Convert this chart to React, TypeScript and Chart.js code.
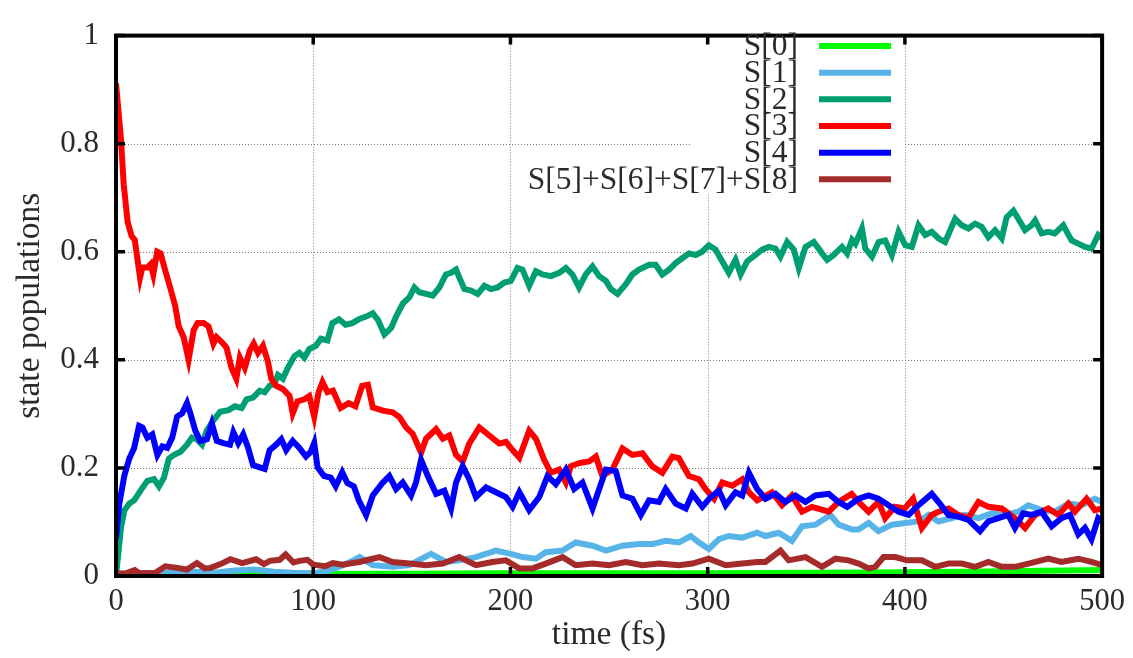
import React, { useEffect, useRef } from "react";
import { Chart, registerables } from "chart.js";

Chart.register(...registerables);

// [time (fs), population] pairs for each electronic state
const S0: [number, number][] = [
  [0, 0.004], [50, 0.004], [100, 0.004], [150, 0.004], [200, 0.005], [250, 0.005],
  [300, 0.005], [350, 0.006], [400, 0.007], [430, 0.008], [450, 0.009], [480, 0.01], [500, 0.011],
];

const S1: [number, number][] = [
  [0, 0.003], [10, 0.004], [20, 0.005], [30, 0.006], [40, 0.008], [50, 0.006], [60, 0.01],
  [70, 0.012], [80, 0.008], [90, 0.006], [100, 0.005], [108, 0.01], [115, 0.02], [120, 0.028],
  [123.5, 0.035], [130.2, 0.02], [140.3, 0.017], [148.8, 0.02], [159.7, 0.041], [167.3, 0.026],
  [174, 0.029], [182.5, 0.035], [192.6, 0.047], [200.2, 0.041], [206.1, 0.035], [212.9, 0.032],
  [217.9, 0.044], [226.4, 0.047], [233.1, 0.062], [241.6, 0.056], [248.4, 0.047], [256.8, 0.056],
  [265.2, 0.059], [272, 0.059], [278.7, 0.065], [285.4, 0.062], [291.4, 0.074], [295.6, 0.062],
  [300.6, 0.05], [305.7, 0.068], [310.8, 0.074], [317.5, 0.071], [325.1, 0.08], [329.3, 0.074],
  [336, 0.08], [342.7, 0.065], [347.8, 0.092], [354.6, 0.095], [359.7, 0.107], [362.2, 0.113],
  [366.4, 0.095], [373.2, 0.086], [376.5, 0.086], [381.6, 0.098], [386.6, 0.083], [393.4, 0.095],
  [400.2, 0.098], [406.9, 0.101], [412, 0.113], [417, 0.101], [423.8, 0.107], [430.5, 0.113],
  [437.3, 0.107], [444, 0.116], [450.8, 0.113], [457.5, 0.119], [462.6, 0.131], [469.3, 0.122],
  [476, 0.119], [482.9, 0.134], [489.6, 0.131], [496.3, 0.143], [500, 0.137],
];

const S2: [number, number][] = [
  [0, 0], [2.5, 0.089], [4.2, 0.121], [6.7, 0.134], [9.2, 0.14], [12.6, 0.159], [15.9, 0.176],
  [19.3, 0.179], [21.8, 0.166], [24.3, 0.182], [26.8, 0.217], [29.3, 0.224], [32.7, 0.23],
  [36, 0.243], [38.5, 0.256], [41, 0.253], [43.6, 0.243], [46, 0.269], [49.4, 0.288],
  [52.8, 0.304], [57, 0.307], [60.3, 0.314], [63.7, 0.311], [66.2, 0.327], [69.5, 0.33],
  [72.9, 0.343], [75.4, 0.34], [77.9, 0.352], [80.4, 0.356], [82.1, 0.372], [84.6, 0.365],
  [87.1, 0.385], [90.5, 0.407], [93, 0.413], [95.5, 0.404], [98, 0.42], [101.3, 0.426],
  [103.9, 0.439], [107.2, 0.436], [109.7, 0.468], [113.1, 0.475], [116.4, 0.465], [119.8, 0.468],
  [123.1, 0.475], [126.8, 0.48], [130.2, 0.486], [132.8, 0.474], [136.1, 0.447], [139.5, 0.459],
  [142, 0.48], [145.4, 0.504], [148.8, 0.516], [151.3, 0.534], [153.8, 0.525], [157.2, 0.522],
  [160.6, 0.519], [164, 0.534], [167.3, 0.558], [169.9, 0.561], [172.4, 0.567], [174.1, 0.552],
  [176.6, 0.531], [180, 0.528], [183.4, 0.522], [186.8, 0.537], [190.1, 0.531], [193.5, 0.534],
  [196.9, 0.543], [200.2, 0.546], [203.6, 0.57], [206.1, 0.567], [209.5, 0.537], [212.9, 0.564],
  [216.3, 0.558], [220.5, 0.555], [224.7, 0.561], [228.1, 0.57], [231.4, 0.558], [234.8, 0.534],
  [238.2, 0.558], [241.6, 0.573], [245, 0.555], [248.4, 0.546], [250.9, 0.531], [254.3, 0.522],
  [258.5, 0.54], [261.8, 0.558], [265.2, 0.567], [270.3, 0.576], [273.6, 0.576], [277, 0.558],
  [280.4, 0.567], [283.8, 0.579], [287.1, 0.588], [290.5, 0.597], [293.9, 0.594], [297.2, 0.6],
  [300.6, 0.612], [304, 0.604], [307.4, 0.582], [310.7, 0.561], [314.1, 0.585], [316.7, 0.558],
  [320, 0.582], [324.2, 0.594], [327.6, 0.604], [331, 0.609], [334.4, 0.606], [336.9, 0.591],
  [340.3, 0.618], [343.7, 0.604], [346.2, 0.57], [349.6, 0.609], [353.8, 0.618], [358, 0.597],
  [360.6, 0.585], [363.9, 0.594], [368.1, 0.609], [370.7, 0.597], [373.2, 0.622], [374.9, 0.615],
  [378.2, 0.643], [379.9, 0.606], [383.3, 0.591], [386.7, 0.618], [390, 0.621], [393.4, 0.594],
  [396.8, 0.637], [400.2, 0.612], [403.5, 0.609], [406.9, 0.649], [410.3, 0.631], [413.6, 0.637],
  [417, 0.625], [420.4, 0.618], [425.5, 0.661], [428.8, 0.649], [432.2, 0.643], [435.6, 0.652],
  [438.9, 0.646], [442.3, 0.627], [445.7, 0.64], [449.1, 0.625], [451.6, 0.664], [455, 0.676],
  [457.5, 0.661], [460.9, 0.64], [464.2, 0.649], [466, 0.658], [469.3, 0.634], [472.7, 0.637],
  [476, 0.634], [480.3, 0.649], [484.5, 0.621], [487.9, 0.615], [491.3, 0.609], [494.6, 0.606],
  [498, 0.631], [500, 0.625],
];

const S3: [number, number][] = [
  [0, 0.912], [2.5, 0.809], [3.9, 0.725], [5.9, 0.655], [7.9, 0.629], [9.5, 0.622], [12.2, 0.552],
  [13.4, 0.571], [16, 0.571], [17.6, 0.577], [18.9, 0.558], [20.9, 0.6], [22.6, 0.597],
  [25, 0.565], [27.6, 0.532], [30, 0.5], [31.8, 0.462], [34.3, 0.442], [36.8, 0.4], [39.4, 0.455],
  [41.4, 0.468], [44.4, 0.468], [46.9, 0.462], [49.4, 0.43], [51, 0.442], [53.6, 0.433],
  [56, 0.423], [58.6, 0.385], [61, 0.365], [62.8, 0.404], [65.3, 0.385], [67.8, 0.417],
  [69.8, 0.43], [72, 0.413], [74.5, 0.426], [77, 0.397], [78.7, 0.365], [81.2, 0.352],
  [84.6, 0.346], [88, 0.333], [89.6, 0.301], [92, 0.323], [95.5, 0.327], [98, 0.333],
  [100.5, 0.295], [102.7, 0.34], [104.7, 0.359], [107.2, 0.34], [110, 0.343], [113.9, 0.311],
  [118, 0.32], [121.4, 0.314], [124.8, 0.352], [127.7, 0.354], [130.2, 0.312], [135.3, 0.306],
  [140.3, 0.303], [143.7, 0.294], [147.1, 0.275], [150.5, 0.263], [154.7, 0.228], [157.2, 0.254],
  [162.3, 0.272], [165.7, 0.254], [169, 0.26], [172.4, 0.224], [175.8, 0.212], [179.1, 0.245],
  [184.2, 0.275], [189.3, 0.26], [194.3, 0.245], [197.7, 0.248], [201.1, 0.233], [204.5, 0.219],
  [209.5, 0.269], [212.9, 0.254], [217.1, 0.215], [220.5, 0.191], [224.7, 0.197], [228.1, 0.173],
  [230.6, 0.203], [234.8, 0.209], [239.9, 0.212], [243.3, 0.221], [246.6, 0.185], [251.7, 0.197],
  [256.8, 0.236], [261.8, 0.224], [266.9, 0.227], [271.9, 0.203], [277, 0.191], [282.1, 0.221],
  [285.4, 0.218], [290.5, 0.185], [295.6, 0.179], [298.9, 0.161], [303.2, 0.143], [307.4, 0.173],
  [312.5, 0.167], [317.5, 0.179], [320.9, 0.155], [325.1, 0.14], [332.6, 0.155], [337.7, 0.131],
  [342.7, 0.149], [347.8, 0.119], [352.9, 0.128], [361.4, 0.119], [366.4, 0.137], [373, 0.152],
  [376.5, 0.137], [381.6, 0.119], [386.6, 0.137], [390, 0.107], [394.8, 0.128], [399.9, 0.125],
  [404.1, 0.143], [408.6, 0.089], [413.6, 0.113], [417, 0.119], [422.1, 0.125], [427.1, 0.113],
  [432.2, 0.107], [437.3, 0.137], [442.3, 0.128], [449.1, 0.125], [455.8, 0.107], [460.9, 0.089],
  [466, 0.113], [472.7, 0.125], [477.8, 0.113], [482.9, 0.134], [486.2, 0.119], [492.1, 0.143],
  [496.3, 0.122], [500, 0.125],
];

const S4: [number, number][] = [
  [0, 0.069], [1.7, 0.134], [4.2, 0.185], [6.7, 0.217], [9.2, 0.237], [11.7, 0.278], [13.4, 0.275],
  [15.9, 0.256], [18.4, 0.262], [21, 0.224], [23.5, 0.24], [26, 0.237], [28.5, 0.256], [31, 0.295],
  [33.5, 0.301], [36, 0.32], [37.7, 0.301], [40.2, 0.269], [42.7, 0.25], [46.1, 0.253],
  [48.6, 0.282], [51.1, 0.25], [54.4, 0.246], [57.8, 0.243], [59.5, 0.266], [62, 0.246],
  [64.5, 0.262], [67, 0.237], [69.5, 0.205], [72.9, 0.201], [75.4, 0.198], [77.9, 0.233],
  [81.2, 0.243], [83.8, 0.253], [86.3, 0.233], [89.6, 0.25], [93, 0.237], [96.3, 0.221],
  [98.8, 0.23], [100.5, 0.246], [102.2, 0.201], [105.5, 0.185], [108.9, 0.182], [111.4, 0.166],
  [114.7, 0.192], [117.3, 0.172], [120.6, 0.166], [123.1, 0.14], [126.8, 0.113], [130.2, 0.149],
  [135.3, 0.173], [138.6, 0.185], [142, 0.161], [145.4, 0.173], [149.6, 0.149], [152.1, 0.173],
  [154.7, 0.215], [158.1, 0.185], [162.3, 0.152], [166.5, 0.158], [169.9, 0.125], [172.4, 0.173],
  [175.8, 0.203], [179.1, 0.179], [182.5, 0.146], [187.6, 0.164], [192.6, 0.155], [197.7, 0.146],
  [201.1, 0.128], [204.5, 0.155], [209.5, 0.122], [214.6, 0.146], [218.8, 0.185], [223, 0.17],
  [228.1, 0.197], [232.3, 0.161], [236.5, 0.173], [241.6, 0.125], [245, 0.161], [248.4, 0.197],
  [253.4, 0.194], [256.8, 0.149], [261.8, 0.143], [266.1, 0.113], [270.3, 0.14], [275.3, 0.137],
  [278.7, 0.161], [283.8, 0.134], [288.9, 0.125], [292.2, 0.152], [297.3, 0.128], [301.5, 0.146],
  [305.7, 0.158], [309.1, 0.131], [314.1, 0.155], [317.5, 0.149], [320.9, 0.191], [325.1, 0.161],
  [329.3, 0.143], [334.4, 0.152], [339.4, 0.137], [344.5, 0.149], [349.6, 0.137], [354.6, 0.149],
  [361.4, 0.152], [366.4, 0.137], [370.7, 0.128], [376.5, 0.143], [381.6, 0.149], [386.6, 0.143],
  [391.7, 0.131], [396.8, 0.119], [401.9, 0.113], [406.9, 0.131], [413.6, 0.152], [417, 0.137],
  [422.1, 0.113], [427.1, 0.11], [432.2, 0.104], [438.1, 0.083], [442.3, 0.101], [447.4, 0.107],
  [452.4, 0.113], [455.8, 0.089], [460, 0.116], [464.2, 0.113], [469.3, 0.119], [474.4, 0.092],
  [479.4, 0.107], [483.7, 0.113], [487.9, 0.077], [491.3, 0.089], [494.6, 0.068], [498, 0.107],
  [500, 0.101],
];

// sum of the higher states S[5]..S[8]
const S5to8: [number, number][] = [
  [0, 0.004], [5, 0.005], [9.5, 0.011], [12, 0.005], [20, 0.006], [25, 0.018], [31, 0.015],
  [36, 0.012], [41, 0.024], [45, 0.014], [48, 0.015], [53, 0.022], [58, 0.031], [64, 0.024],
  [71, 0.031], [75, 0.022], [78, 0.028], [83, 0.03], [86, 0.04], [90, 0.025], [93, 0.028],
  [97, 0.03], [100, 0.021], [106, 0.018], [110, 0.024], [115, 0.021], [120, 0.024], [123.5, 0.026],
  [128, 0.03], [133.6, 0.035], [140.3, 0.026], [148.8, 0.023], [157.2, 0.02], [165.7, 0.023],
  [174, 0.035], [182.5, 0.02], [190.9, 0.026], [197.7, 0.029], [204.5, 0.014], [211.2, 0.014],
  [217.9, 0.023], [226.4, 0.035], [233.1, 0.02], [241.6, 0.023], [250, 0.02], [258.5, 0.026],
  [266.9, 0.02], [275.3, 0.023], [285.4, 0.02], [292.2, 0.023], [300.6, 0.032], [309.1, 0.02],
  [317.5, 0.023], [325.1, 0.026], [329.3, 0.026], [336.9, 0.047], [341.1, 0.029], [349.6, 0.035],
  [358, 0.017], [364.8, 0.032], [371.5, 0.029], [376.5, 0.023], [381.6, 0.014], [385, 0.017],
  [389.2, 0.035], [395.1, 0.035], [401, 0.029], [408.6, 0.029], [415.3, 0.017], [422.1, 0.023],
  [428.8, 0.023], [435.6, 0.017], [442.3, 0.026], [449.1, 0.017], [455.8, 0.017], [462.6, 0.023],
  [472.7, 0.032], [479.4, 0.026], [487.9, 0.032], [494.6, 0.026], [500, 0.02],
];

const seriesData = [S0, S1, S2, S3, S4, S5to8];
const seriesLabels = ["S[0]", "S[1]", "S[2]", "S[3]", "S[4]", "S[5]+S[6]+S[7]+S[8]"];
const seriesColors = ["#00ff00", "#56b4e9", "#009e73", "#ff0000", "#0000ff", "#a52a2a"];

const xTickValues = [0, 100, 200, 300, 400, 500];
const yTickValues = [0, 0.2, 0.4, 0.6, 0.8, 1];

const FONT = '"Liberation Serif", "Times New Roman", serif';
const TEXT_COLOR = "#2a2a2a";

// gnuplot-style frame: dotted grid, opaque key box, thick border with inward ticks, key
const framePlugin = {
  id: "gnuplotFrame",
  beforeDatasetsDraw(chart: any) {
    const { ctx, chartArea: a, scales } = chart;
    const xs = scales.x;
    const ys = scales.y;
    ctx.save();
    ctx.strokeStyle = "#7a7a7a";
    ctx.lineWidth = 1;
    ctx.setLineDash([1, 2]);
    for (const v of xTickValues) {
      if (v === 0 || v === 500) continue;
      const px = Math.round(xs.getPixelForValue(v)) + 0.5;
      ctx.beginPath();
      ctx.moveTo(px, a.top);
      ctx.lineTo(px, a.bottom);
      ctx.stroke();
    }
    for (const v of yTickValues) {
      if (v === 0 || v === 1) continue;
      const py = Math.round(ys.getPixelForValue(v)) + 0.5;
      ctx.beginPath();
      ctx.moveTo(a.left, py);
      ctx.lineTo(a.right, py);
      ctx.stroke();
    }
    ctx.setLineDash([]);
    // opaque key background
    ctx.fillStyle = "#ffffff";
    ctx.fillRect(690, a.top + 4, 215, 193 - a.top - 4);
    ctx.restore();
  },
  afterDatasetsDraw(chart: any) {
    const { ctx, chartArea: a, scales } = chart;
    const xs = scales.x;
    const ys = scales.y;
    ctx.save();
    ctx.strokeStyle = "#000000";
    ctx.lineWidth = 4;
    ctx.strokeRect(a.left, a.top, a.right - a.left, a.bottom - a.top);
    ctx.lineWidth = 3.5;
    const tl = 9;
    for (const v of xTickValues) {
      const px = xs.getPixelForValue(v);
      ctx.beginPath();
      ctx.moveTo(px, a.bottom);
      ctx.lineTo(px, a.bottom - tl);
      ctx.moveTo(px, a.top);
      ctx.lineTo(px, a.top + tl);
      ctx.stroke();
    }
    for (const v of yTickValues) {
      const py = ys.getPixelForValue(v);
      ctx.beginPath();
      ctx.moveTo(a.left, py);
      ctx.lineTo(a.left + tl, py);
      ctx.moveTo(a.right, py);
      ctx.lineTo(a.right - tl, py);
      ctx.stroke();
    }
    // key
    ctx.font = `31.5px ${FONT}`;
    ctx.textAlign = "right";
    ctx.textBaseline = "middle";
    const rowH = 26.67;
    const firstRow = 46;
    seriesLabels.forEach((label, i) => {
      const y = firstRow + i * rowH;
      ctx.fillStyle = TEXT_COLOR;
      ctx.fillText(label, 798, y + 1);
      ctx.strokeStyle = seriesColors[i];
      ctx.lineWidth = 6;
      ctx.beginPath();
      ctx.moveTo(819, y);
      ctx.lineTo(891, y);
      ctx.stroke();
    });
    ctx.restore();
  },
};

const formatTick = (v: any) => String(Number(Number(v).toFixed(1)));

export default function App() {
  const canvasRef = useRef<HTMLCanvasElement | null>(null);

  useEffect(() => {
    document.body.style.margin = "0";
    const canvas = canvasRef.current;
    if (!canvas) return;

    const datasets = seriesData.map((series, i) => ({
      label: seriesLabels[i],
      data: series.map(([x, y]) => ({ x, y })),
      borderColor: seriesColors[i],
      backgroundColor: seriesColors[i],
      borderWidth: 6,
      pointRadius: 0,
      tension: 0,
      fill: false,
      order: seriesData.length - i,
    }));

    const chart = new Chart(canvas, {
      type: "line",
      data: { datasets },
      options: {
        animation: false,
        responsive: true,
        maintainAspectRatio: false,
        devicePixelRatio: 1,
        parsing: false,
        normalized: true,
        layout: { padding: { left: 0, right: 29, top: 22, bottom: 0 } },
        plugins: {
          legend: { display: false },
          tooltip: { enabled: false },
        },
        scales: {
          x: {
            type: "linear",
            min: 0,
            max: 500,
            afterBuildTicks: (s: any) => {
              s.ticks = xTickValues.map((value) => ({ value }));
            },
            afterFit: (s: any) => {
              s.height = 82;
            },
            grid: { display: false, drawTicks: false },
            border: { display: false },
            ticks: {
              autoSkip: false,
              maxRotation: 0,
              padding: 8,
              color: TEXT_COLOR,
              font: { family: FONT, size: 30.5 },
              callback: formatTick,
            },
            title: {
              display: true,
              text: "time (fs)",
              color: TEXT_COLOR,
              font: { family: FONT, size: 33.5 },
              padding: { top: 0, bottom: 3 },
            },
          },
          y: {
            type: "linear",
            min: 0,
            max: 1,
            afterBuildTicks: (s: any) => {
              s.ticks = yTickValues.map((value) => ({ value }));
            },
            afterFit: (s: any) => {
              s.width = 116;
            },
            grid: { display: false, drawTicks: false },
            border: { display: false },
            ticks: {
              autoSkip: false,
              padding: 17,
              color: TEXT_COLOR,
              font: { family: FONT, size: 31 },
              callback: formatTick,
            },
            title: {
              display: true,
              text: "state populations",
              color: TEXT_COLOR,
              font: { family: FONT, size: 33.5 },
              padding: { top: 10, bottom: 0 },
            },
          },
        },
      },
      plugins: [framePlugin],
    });

    return () => {
      chart.destroy();
    };
  }, []);

  return (
    <div style={{ position: "relative", width: 1133, height: 658 }}>
      <canvas ref={canvasRef} />
    </div>
  );
}
